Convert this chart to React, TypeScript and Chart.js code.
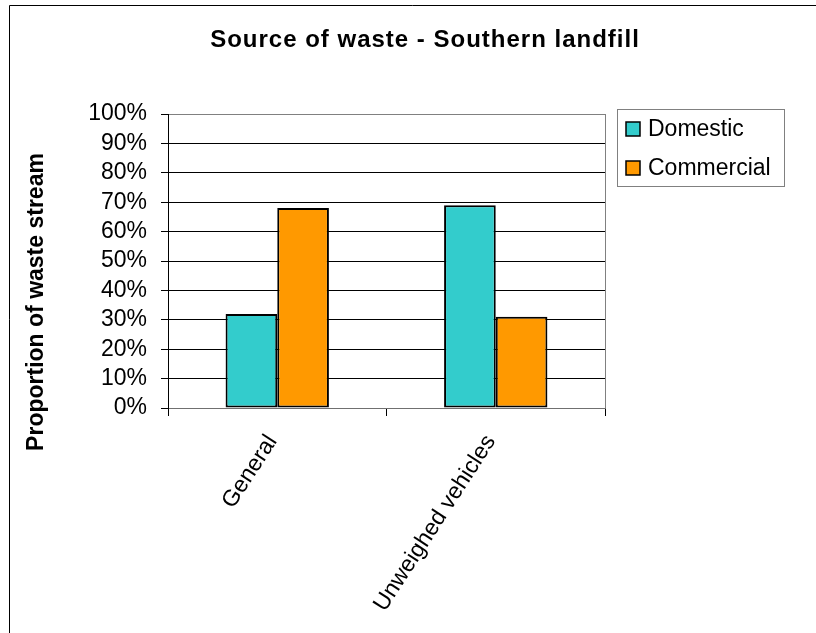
import React, { useEffect, useRef } from "react";
import { Chart, registerables } from "chart.js";

Chart.register(...registerables);

// Chart content
const chartTitle = "Source of waste - Southern landfill";
const yAxisTitle = "Proportion of waste stream";
const categories = ["General", "Unweighed vehicles"];
const seriesNames = ["Domestic", "Commercial"];
const domesticValues = [32, 69];
const commercialValues = [68, 31];
const seriesColors = ["#33CCCC", "#FF9900"];
const yMin = 0;
const yMax = 100;
const yStep = 10;

const FONT = "'Liberation Sans', Arial, Helvetica, sans-serif";

// Outer frame, title, y title, plot border and boxed legend
const decorPlugin = {
  id: "decor",
  beforeDraw(chart: any) {
    const { ctx } = chart;
    ctx.save();
    ctx.fillStyle = "#fff";
    ctx.fillRect(0, 0, chart.width, chart.height);
    // frame (top + left edge)
    ctx.strokeStyle = "#000";
    ctx.lineWidth = 1;
    ctx.beginPath();
    ctx.moveTo(9.5, chart.height);
    ctx.lineTo(9.5, 5.5);
    ctx.lineTo(chart.width, 5.5);
    ctx.stroke();
    ctx.restore();
  },
  afterDatasetsDraw(chart: any) {
    const { ctx, chartArea } = chart;
    ctx.save();
    // right edge of plot area
    ctx.strokeStyle = "#808080";
    ctx.lineWidth = 1;
    ctx.beginPath();
    const rx = Math.round(chartArea.right) + 0.5;
    ctx.moveTo(rx, chartArea.top);
    ctx.lineTo(rx, chartArea.bottom);
    ctx.stroke();

    // title
    ctx.fillStyle = "#000";
    ctx.font = `bold 24px ${FONT}`;
    (ctx as any).letterSpacing = "1px";
    ctx.textAlign = "center";
    ctx.textBaseline = "alphabetic";
    ctx.fillText(chartTitle, 425, 47);
    (ctx as any).letterSpacing = "0px";

    // y axis title
    ctx.save();
    ctx.translate(43, 302);
    ctx.rotate(-Math.PI / 2);
    ctx.font = `bold 23px ${FONT}`;
    ctx.textAlign = "center";
    ctx.textBaseline = "alphabetic";
    ctx.fillText(yAxisTitle, 0, 0);
    ctx.restore();

    // legend box
    const lx = 617, ly = 109, lw = 167, lh = 77;
    ctx.strokeStyle = "#808080";
    ctx.lineWidth = 1;
    ctx.strokeRect(lx + 0.5, ly + 0.5, lw, lh);
    const rows = [129, 168];
    ctx.font = `23px ${FONT}`;
    ctx.textAlign = "left";
    ctx.textBaseline = "middle";
    chart.data.datasets.forEach((ds: any, i: number) => {
      const cy = rows[i];
      ctx.fillStyle = ds.backgroundColor;
      ctx.fillRect(626, cy - 7, 14, 14);
      ctx.strokeStyle = "#000";
      ctx.lineWidth = 1.5;
      ctx.strokeRect(626, cy - 7, 14, 14);
      ctx.fillStyle = "#000";
      ctx.fillText(ds.label, 648, cy + 1);
    });
    ctx.restore();
  },
};

export default function App() {
  const canvasRef = useRef<HTMLCanvasElement | null>(null);

  useEffect(() => {
    if (!canvasRef.current) return;
    const chart = new Chart(canvasRef.current, {
      type: "bar",
      data: {
        labels: categories,
        datasets: [
          {
            label: seriesNames[0],
            data: domesticValues,
            backgroundColor: seriesColors[0],
            borderColor: "#000",
            borderWidth: 2,
            borderSkipped: false,
            categoryPercentage: 0.473,
            barPercentage: 1.0,
          },
          {
            label: seriesNames[1],
            data: commercialValues,
            backgroundColor: seriesColors[1],
            borderColor: "#000",
            borderWidth: 2,
            borderSkipped: false,
            categoryPercentage: 0.473,
            barPercentage: 1.0,
          },
        ],
      },
      options: {
        animation: false,
        responsive: false,
        maintainAspectRatio: false,
        devicePixelRatio: 1,
        layout: { padding: { top: 114, right: 211, left: 0, bottom: 0 } },
        plugins: {
          legend: { display: false },
          title: { display: false },
          tooltip: { enabled: false },
        },
        scales: {
          x: {
            type: "category",
            offset: true,
            afterFit(scale: any) {
              scale.height = 225;
            },
            grid: {
              offset: true,
              drawOnChartArea: false,
              drawTicks: true,
              tickLength: 8,
              color: "#000",
              lineWidth: 1,
            },
            border: { display: true, color: "#707070", width: 1 },
            ticks: {
              autoSkip: false,
              minRotation: 57,
              maxRotation: 57,
              padding: 14,
              labelOffset: -5,
              color: "#000",
              font: { family: FONT, size: 23 },
            },
          },
          y: {
            type: "linear",
            min: yMin,
            max: yMax,
            afterFit(scale: any) {
              scale.width = 168;
            },
            grid: {
              drawTicks: true,
              tickLength: 7,
              color: (c: any) => (c.tick && c.tick.value === yMax ? "#808080" : "#000"),
              tickColor: "#000",
              lineWidth: 1,
            },
            border: { display: true, color: "#000", width: 1 },
            ticks: {
              stepSize: yStep,
              autoSkip: false,
              padding: 14,
              color: "#000",
              font: { family: FONT, size: 23 },
              callback: (v: any) => `${v}%`,
            },
          },
        },
      },
      plugins: [decorPlugin],
    });
    return () => chart.destroy();
  }, []);

  return (
    <div style={{ position: "fixed", left: 0, top: 0, width: 816, height: 633, background: "#fff" }}>
      <canvas ref={canvasRef} width={816} height={633} style={{ display: "block", width: 816, height: 633 }} />
    </div>
  );
}
